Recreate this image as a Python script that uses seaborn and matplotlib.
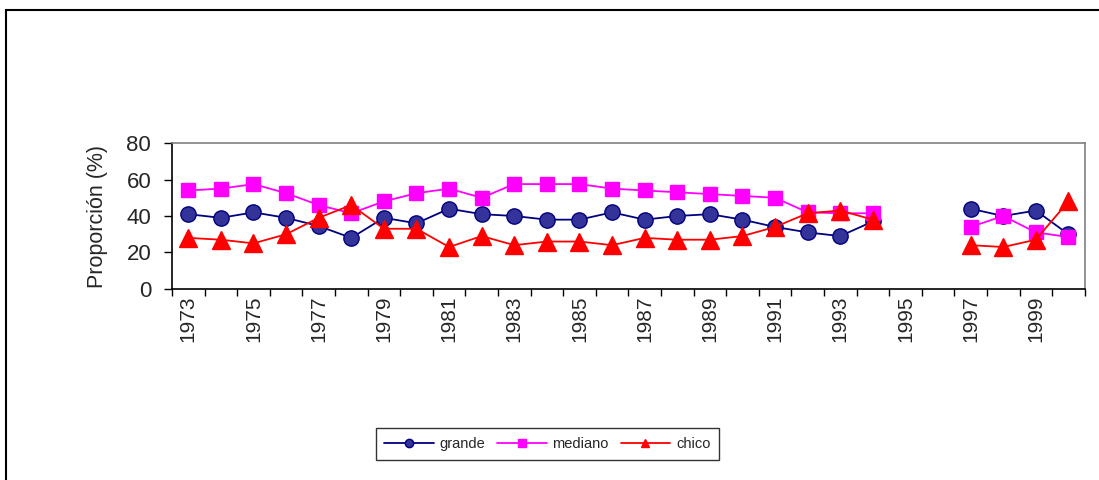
import numpy as np
import pandas as pd
import matplotlib
matplotlib.use('Agg')
import matplotlib.pyplot as plt
from matplotlib.lines import Line2D
from matplotlib.patches import Rectangle
import seaborn as sns

years = list(range(1973, 2001))
nan = np.nan
grande = [41, 39, 42, 39, 34.5, 28, 39, 36, 44, 41, 40, 38, 38, 42, 38, 40, 41, 38, 34, 31, 29, 37,
          nan, nan, 44, 40, 43, 30]
mediano = [54, 55, 57.5, 52.5, 46, 41.5, 48, 52.5, 55, 50, 57.5, 57.5, 57.5, 55, 54, 53, 52, 51, 50,
           42, 41.5, 41.5, nan, nan, 34, 40, 31, 28.5]
chico = [28, 27, 25, 30, 39, 46, 33, 33, 23, 29, 24, 26, 26, 24, 28, 27, 27, 29, 34, 41.5, 43, 38,
         nan, nan, 24, 23, 27, 48]
series = ['grande', 'mediano', 'chico']
colors = {'grande': '#000080', 'mediano': '#FF00FF', 'chico': '#FF0000'}
faces = {'grande': '#333399', 'mediano': '#FF00FF', 'chico': '#FF0000'}
markers = {'grande': 'o', 'mediano': 's', 'chico': '^'}
sizes = {'grande': 11, 'mediano': 10.5, 'chico': 12.5}

# long table, with a segment id so the gap 1995-1996 stays open
rows = []
for name, vals in zip(series, [grande, mediano, chico]):
    seg = 0
    for y, v in zip(years, vals):
        if np.isnan(v):
            seg += 1
            continue
        rows.append({'year': y, 'valor': v, 'serie': name, 'seg': seg})
df = pd.DataFrame(rows)

sns.set_style('white')
plt.rcParams['font.family'] = ['Liberation Sans', 'DejaVu Sans']

fig = plt.figure(figsize=(10.99, 4.8), dpi=100)
ax = fig.add_axes([0.1565, 0.398, 0.8305, 0.304])

for name in series:
    sub = df[df['serie'] == name]
    sns.lineplot(data=sub, x='year', y='valor', units='seg', estimator=None, ax=ax,
                 color=colors[name], linewidth=1.3, marker=markers[name],
                 markersize=sizes[name], markerfacecolor=faces[name],
                 markeredgecolor=colors[name], markeredgewidth=1.0, legend=False)

ax.set_xlim(1972.5, 2000.5)
ax.set_ylim(0, 80)
ax.set_yticks([0, 20, 40, 60, 80])
ax.set_xticks(years[::2])
ax.set_xticklabels([str(y) for y in years[::2]], rotation=90)
ax.set_xticks(np.arange(1972.5, 2001, 1), minor=True)
ax.tick_params(axis='x', which='major', length=0, labelsize=15, pad=5)
ax.tick_params(axis='x', which='minor', length=5, width=1, color='black', direction='out', bottom=True)
ax.tick_params(axis='y', length=6, width=1, color='black', direction='out', left=True, labelsize=16, pad=9)
ax.set_xlabel('')
ax.set_ylabel('Proporción (%)', fontsize=15.5, labelpad=13)

for side in ['left', 'bottom']:
    ax.spines[side].set_color('black')
    ax.spines[side].set_linewidth(1.2)
for side in ['top', 'right']:
    ax.spines[side].set_visible(True)
    ax.spines[side].set_color('#808080')
    ax.spines[side].set_linewidth(1.2)

handles = [Line2D([0], [0], color=colors[n], marker=markers[n], markersize=6,
                  markerfacecolor=faces[n], markeredgecolor=colors[n], linewidth=1.3)
           for n in series]
leg = fig.legend(handles, series, loc='center', bbox_to_anchor=(0.498, 0.075), ncol=3,
                 fontsize=10.5, frameon=True, fancybox=False, handlelength=3.4,
                 columnspacing=0.8, handletextpad=0.4, borderpad=0.6)
leg.get_frame().set_edgecolor('black')
leg.get_frame().set_linewidth(1.0)

# outer chart border (only top and left fall inside the picture)
fig.patches.append(Rectangle((5.5 / 1099, -0.1), 1.2, 1 - 9.5 / 480 + 0.1, transform=fig.transFigure,
                             fill=False, edgecolor='black', linewidth=1.5))

fig.savefig('out.png', dpi=100)
